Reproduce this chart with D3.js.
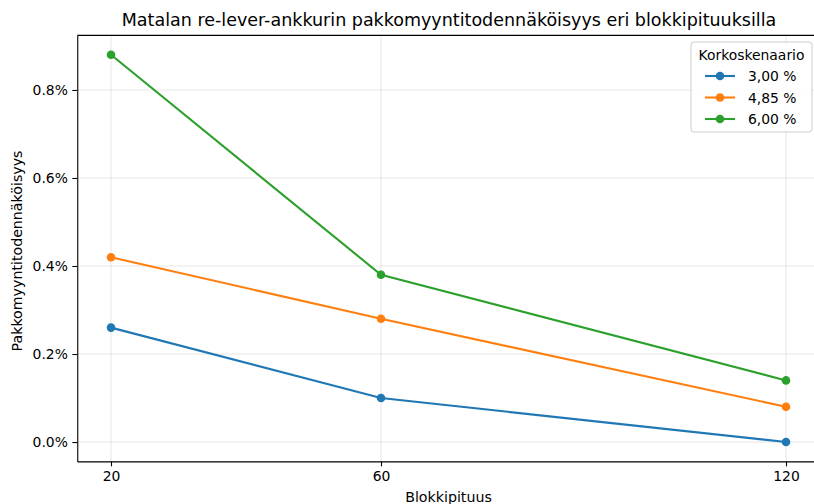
<!DOCTYPE html>
<html>
<head>
<meta charset="utf-8">
<script src="https://cdn.jsdelivr.net/npm/d3@7"></script>
<style>
  body { margin: 0; background: #fff; }
  svg { font-family: "DejaVu Sans", sans-serif; }
</style>
</head>
<body>
<svg width="814" height="504"></svg>
<script>
// **** Data ****
var blockLengths = [20, 60, 120];
var scenarioNames = ["3,00 %", "4,85 %", "6,00 %"];
var rate300 = [0.26, 0.10, 0.00];
var rate485 = [0.42, 0.28, 0.08];
var rate600 = [0.88, 0.38, 0.14];
var yTicks = [0, 0.2, 0.4, 0.6, 0.8];
var colors = ["#1f77b4", "#ff7f0e", "#2ca02c"];

var series = [rate300, rate485, rate600];

// **** Scales ****
var xScale = d3.scaleLinear().domain([15, 125]).range([77.25, 819.75]);
var yScale = d3.scaleLinear().domain([-0.044, 0.924]).range([461.4, 35.4]);

var svg = d3.select('svg');

// grid
svg.append('g').selectAll('line.gx')
    .data(blockLengths).enter().append('line')
    .attr('x1', function (d) { return xScale(d); })
    .attr('x2', function (d) { return xScale(d); })
    .attr('y1', yScale.range()[0]).attr('y2', yScale.range()[1])
    .attr('stroke', '#b0b0b0').attr('stroke-opacity', 0.3).attr('stroke-width', 1);

svg.append('g').selectAll('line.gy')
    .data(yTicks).enter().append('line')
    .attr('y1', function (d) { return yScale(d); })
    .attr('y2', function (d) { return yScale(d); })
    .attr('x1', xScale.range()[0]).attr('x2', xScale.range()[1])
    .attr('stroke', '#b0b0b0').attr('stroke-opacity', 0.3).attr('stroke-width', 1);

// axes
svg.append('g').attr('class', 'x axis')
    .attr('transform', 'translate(0,461.4)')
    .call(d3.axisBottom(xScale).tickValues(blockLengths).tickSize(4.9).tickSizeOuter(0).tickPadding(4.5));

svg.append('g').attr('class', 'y axis')
    .attr('transform', 'translate(77.25,0)')
    .call(d3.axisLeft(yScale).tickValues(yTicks).tickSize(4.9).tickSizeOuter(0).tickPadding(4.5)
        .tickFormat(function (d) { return d.toFixed(1) + '%'; }));

svg.selectAll('.axis text').attr('font-size', '13.9px').attr('fill', '#000')
    .attr('font-family', '"DejaVu Sans", sans-serif');
svg.selectAll('.axis line').attr('stroke', '#000').attr('stroke-width', 1.1);
svg.selectAll('.axis path').attr('stroke', '#000').attr('stroke-width', 1.1);

// top and right spines
svg.append('line')
    .attr('x1', xScale.range()[0]).attr('x2', xScale.range()[1])
    .attr('y1', yScale.range()[1]).attr('y2', yScale.range()[1])
    .attr('stroke', '#000').attr('stroke-width', 1.1);
svg.append('line')
    .attr('x1', xScale.range()[1]).attr('x2', xScale.range()[1])
    .attr('y1', yScale.range()[0]).attr('y2', yScale.range()[1])
    .attr('stroke', '#000').attr('stroke-width', 1.1);

// lines and markers
var line = d3.line()
    .x(function (d, i) { return xScale(blockLengths[i]); })
    .y(function (d) { return yScale(d); });

series.forEach(function (vals, s) {
    svg.append('path')
        .attr('d', line(vals))
        .attr('fill', 'none')
        .attr('stroke', colors[s])
        .attr('stroke-width', 2.1);
    svg.append('g').selectAll('circle')
        .data(vals).enter().append('circle')
        .attr('cx', function (d, i) { return xScale(blockLengths[i]); })
        .attr('cy', function (d) { return yScale(d); })
        .attr('r', 4.3)
        .attr('fill', colors[s]);
});

// labels
svg.append('text')
    .attr('x', 449).attr('y', 26)
    .attr('text-anchor', 'middle')
    .attr('font-size', '17.5px')
    .text('Matalan re-lever-ankkurin pakkomyyntitodennäköisyys eri blokkipituuksilla');

svg.append('text')
    .attr('x', 448.5).attr('y', 502)
    .attr('text-anchor', 'middle')
    .attr('font-size', '14.2px')
    .text('Blokkipituus');

svg.append('text')
    .attr('transform', 'translate(22,251) rotate(-90)')
    .attr('text-anchor', 'middle')
    .attr('font-size', '14.2px')
    .text('Pakkomyyntitodennäköisyys');

// legend
var legend = svg.append('g').attr('transform', 'translate(691,42)');
legend.append('rect')
    .attr('x', 0).attr('y', 0).attr('width', 121).attr('height', 90)
    .attr('rx', 3).attr('fill', '#fff').attr('fill-opacity', 0.8)
    .attr('stroke', '#cccccc').attr('stroke-width', 1);
legend.append('text')
    .attr('x', 60.5).attr('y', 18)
    .attr('text-anchor', 'middle')
    .attr('font-size', '13.9px')
    .text('Korkoskenaario');
scenarioNames.forEach(function (name, s) {
    var yy = 34 + s * 21.5;
    legend.append('line')
        .attr('x1', 14).attr('x2', 44).attr('y1', yy).attr('y2', yy)
        .attr('stroke', colors[s]).attr('stroke-width', 2.1);
    legend.append('circle')
        .attr('cx', 29).attr('cy', yy).attr('r', 4.3).attr('fill', colors[s]);
    legend.append('text')
        .attr('x', 57).attr('y', yy + 5)
        .attr('font-size', '13.9px')
        .text(name);
});
</script>
</body>
</html>
